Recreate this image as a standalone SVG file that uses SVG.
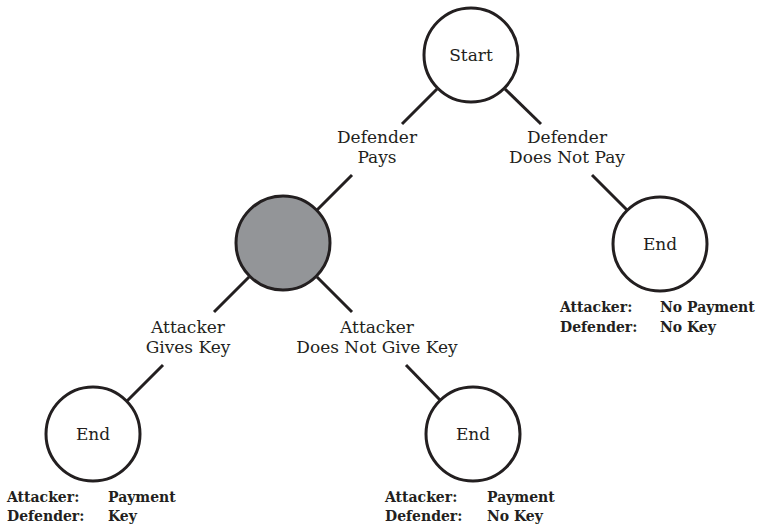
<svg xmlns="http://www.w3.org/2000/svg" width="764" height="529" viewBox="0 0 764 529">
<style>
.n{fill:#fff;stroke:#231f20;stroke-width:3}
.g{fill:#939598;stroke:#231f20;stroke-width:3}
.e line{stroke:#231f20;stroke-width:3;stroke-linecap:butt}
.t{font-family:"DejaVu Serif",serif;font-size:17px;fill:#231f20;text-anchor:middle}
.p{font-family:"DejaVu Serif",serif;font-size:14px;font-weight:bold;fill:#231f20}
</style>
<rect width="764" height="529" fill="#fff"/>
<g id="connectors" class="e">
<line x1="437" y1="89" x2="402" y2="124"/>
<line x1="352" y1="175" x2="317" y2="210"/>
<line x1="505" y1="89" x2="541" y2="124"/>
<line x1="592" y1="175" x2="627" y2="210"/>
<line x1="249" y1="277" x2="214" y2="312"/>
<line x1="163" y1="365" x2="127" y2="401"/>
<line x1="317" y1="277" x2="352" y2="312"/>
<line x1="406" y1="365" x2="440" y2="400"/>
</g>
<g id="edge-labels">
<text class="t" x="377" y="143">Defender</text>
<text class="t" x="377" y="163">Pays</text>
<text class="t" x="567" y="143">Defender</text>
<text class="t" x="567" y="163">Does Not Pay</text>
<text class="t" x="188" y="333">Attacker</text>
<text class="t" x="188" y="353">Gives Key</text>
<text class="t" x="377" y="333">Attacker</text>
<text class="t" x="377" y="353">Does Not Give Key</text>
</g>
<g id="start">
<circle class="n" cx="471" cy="55" r="47"/>
<text class="t" x="471" y="61">Start</text>
</g>
<g id="decision">
<circle class="g" cx="283" cy="243" r="47"/>
</g>
<g id="end-nopay">
<circle class="n" cx="660" cy="244" r="47"/>
<text class="t" x="660" y="250">End</text>
<text class="p" x="560" y="312">Attacker:</text>
<text class="p" x="660" y="312">No Payment</text>
<text class="p" x="560" y="332">Defender:</text>
<text class="p" x="660" y="332">No Key</text>
</g>
<g id="end-key">
<circle class="n" cx="93" cy="434" r="47"/>
<text class="t" x="93" y="440">End</text>
<text class="p" x="7" y="502">Attacker:</text>
<text class="p" x="108" y="502">Payment</text>
<text class="p" x="7" y="521">Defender:</text>
<text class="p" x="108" y="521">Key</text>
</g>
<g id="end-nokey">
<circle class="n" cx="473" cy="434" r="47"/>
<text class="t" x="473" y="440">End</text>
<text class="p" x="385" y="502">Attacker:</text>
<text class="p" x="487" y="502">Payment</text>
<text class="p" x="385" y="521">Defender:</text>
<text class="p" x="487" y="521">No Key</text>
</g>
</svg>
